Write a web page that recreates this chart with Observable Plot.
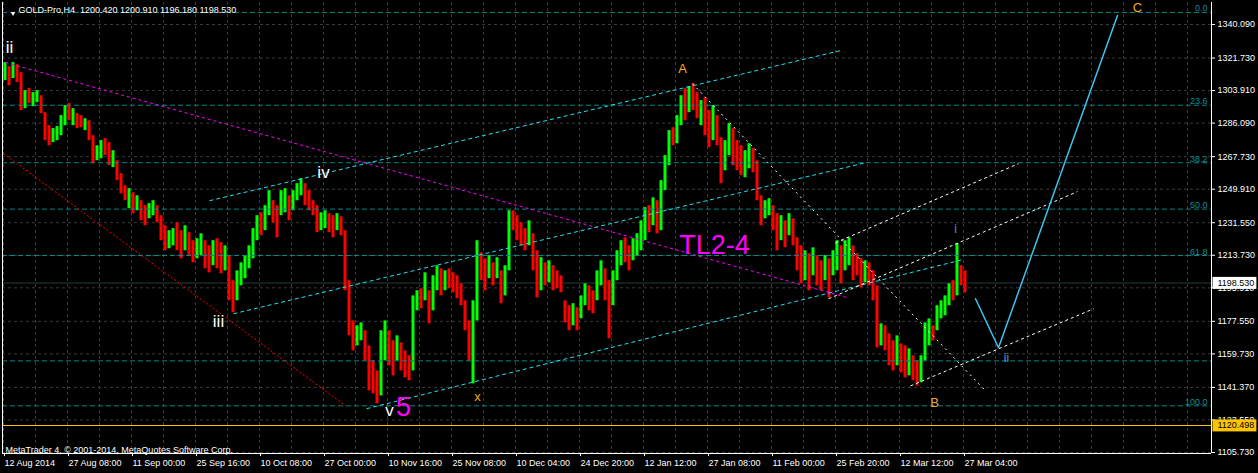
<!DOCTYPE html>
<html><head><meta charset="utf-8">
<script src="https://cdn.jsdelivr.net/npm/d3@7"></script>
<script src="https://cdn.jsdelivr.net/npm/@observablehq/plot@0.6"></script>
<style>html,body{margin:0;padding:0;background:#000;overflow:hidden}</style>
</head><body><div id="chart"></div>
<script>
// ---- data (4-bar columns of the H4 chart) ----
const candleHigh = [1319.2,1317.0,1319.2,1318.1,1313.7,1303.9,1305.0,1302.8,1303.9,1301.1,
1291.8,1284.7,1283.1,1284.2,1290.2,1295.7,1296.8,1294.0,1291.3,1290.2,
1288.5,1287.4,1279.2,1273.7,1276.5,1277.6,1275.4,1271.0,1265.5,1258.4,
1251.8,1250.2,1248.0,1246.3,1243.6,1240.9,1242.0,1243.6,1240.9,1235.4,
1229.9,1227.2,1228.3,1231.5,1227.2,1229.9,1226.1,1221.7,1222.8,1225.5,
1221.7,1218.9,1221.7,1222.8,1220.6,1218.9,1213.5,1199.8,1205.2,1209.6,
1213.5,1218.9,1228.3,1235.4,1237.0,1240.9,1249.1,1243.6,1240.9,1249.1,
1250.2,1246.3,1249.1,1252.9,1255.7,1252.9,1249.1,1243.6,1240.9,1237.0,
1238.1,1236.5,1235.4,1236.5,1234.8,1227.2,1199.8,1177.8,1175.1,1176.7,
1172.4,1164.1,1155.9,1150.4,1172.4,1177.8,1172.4,1166.9,1169.6,1165.8,
1161.4,1158.7,1191.5,1194.3,1195.4,1204.1,1194.3,1202.5,1208.0,1206.3,
1205.2,1206.3,1204.1,1202.5,1198.1,1188.8,1177.8,1188.8,1221.7,1215.1,
1211.8,1213.5,1209.6,1212.4,1205.2,1208.0,1238.1,1238.1,1235.4,1231.5,
1228.3,1232.6,1225.5,1216.2,1212.4,1209.6,1210.7,1208.0,1205.2,1202.5,
1188.8,1186.1,1187.2,1185.0,1191.5,1198.1,1197.0,1194.3,1205.2,1210.7,
1206.3,1199.8,1205.2,1216.2,1221.7,1223.3,1218.9,1222.8,1225.5,1232.6,
1239.8,1240.9,1245.2,1243.6,1254.6,1268.3,1282.0,1283.6,1290.2,1301.1,
1305.0,1306.1,1307.7,1302.8,1298.4,1300.0,1292.9,1295.7,1290.2,1278.1,
1276.5,1285.8,1283.1,1276.5,1273.7,1271.0,1274.8,1272.1,1265.5,1246.3,
1243.6,1244.7,1240.9,1236.5,1235.4,1232.6,1236.5,1233.7,1223.3,1218.9,
1216.2,1214.6,1217.8,1213.5,1210.7,1213.5,1211.8,1216.2,1221.7,1218.9,
1221.7,1223.3,1218.9,1214.6,1211.8,1210.7,1209.6,1205.2,1197.0,1176.2,
1175.1,1170.7,1166.9,1169.6,1165.2,1164.1,1162.5,1158.7,1155.9,1158.7,
1176.7,1178.9,1175.1,1186.1,1188.8,1191.5,1198.1,1199.8,1220.0,1208.0,
1205.2];
const candleLow = [1309.4,1306.6,1310.5,1308.3,1292.9,1294.0,1296.8,1295.1,1297.3,1291.3,
1276.5,1273.7,1275.4,1276.5,1279.2,1284.7,1287.4,1284.7,1283.1,1283.6,
1282.0,1276.5,1263.9,1265.5,1266.6,1268.3,1262.8,1261.7,1254.6,1247.4,
1243.6,1239.2,1236.5,1238.1,1232.6,1229.9,1233.7,1235.4,1231.5,1221.7,
1216.2,1217.3,1218.9,1216.2,1211.8,1216.2,1213.5,1209.6,1211.8,1213.5,
1206.3,1204.1,1208.0,1206.3,1203.6,1205.2,1188.8,1182.2,1188.8,1197.0,
1200.9,1206.3,1211.8,1221.7,1224.4,1227.2,1235.4,1231.5,1223.3,1235.4,
1237.0,1232.6,1238.1,1243.6,1246.3,1240.9,1238.1,1235.4,1226.1,1227.2,
1228.3,1226.1,1223.3,1227.2,1224.4,1194.3,1169.6,1161.4,1164.1,1166.9,
1155.9,1139.5,1137.8,1132.4,1136.7,1155.9,1153.2,1147.7,1155.9,1150.4,
1146.6,1145.0,1150.4,1183.3,1184.4,1188.8,1176.2,1183.3,1194.3,1191.5,
1194.3,1195.4,1193.2,1189.9,1186.1,1172.4,1155.9,1143.3,1177.8,1199.8,
1194.3,1200.9,1197.0,1200.9,1187.2,1191.5,1205.2,1227.2,1221.7,1218.9,
1216.2,1218.9,1205.2,1190.4,1194.3,1197.0,1198.7,1194.3,1195.4,1193.2,
1176.7,1172.4,1175.1,1172.4,1178.9,1186.1,1183.3,1181.7,1188.8,1197.0,
1188.8,1168.0,1186.1,1199.8,1208.0,1209.6,1205.2,1210.7,1213.5,1216.2,
1221.7,1226.1,1229.9,1225.5,1227.2,1249.1,1262.8,1273.7,1274.8,1284.7,
1287.4,1291.8,1292.9,1288.5,1284.7,1279.2,1272.6,1276.5,1273.7,1252.9,
1260.0,1268.3,1262.8,1260.0,1257.3,1256.2,1261.1,1258.9,1243.6,1229.9,
1233.7,1235.4,1227.2,1216.2,1221.7,1217.8,1224.4,1218.9,1205.2,1198.1,
1199.8,1194.3,1202.5,1197.0,1194.3,1199.8,1190.4,1202.5,1205.2,1198.1,
1205.2,1208.0,1199.8,1202.5,1195.9,1198.7,1197.0,1188.8,1163.0,1164.1,
1161.4,1153.2,1150.4,1153.2,1149.3,1146.6,1147.7,1145.0,1142.2,1143.9,
1155.9,1164.1,1166.9,1172.4,1178.9,1180.6,1186.1,1188.8,1191.5,1197.0,
1193.2];
const candleDir = "ududduduud"+"dduuuududd"+"udduuddudd"+"dududduudd"+"duuddudduu"+
"dduddudduu"+"uuuuduuddu"+"uduuuddddu"+"uddudddduu"+"dddduuddud"+
"dduududuud"+"udddddduud"+"dududuuddd"+"duddududdd"+"dduduudduu"+
"dduuudduuu"+"ududuuuduu"+"dudduddudd"+"uuddduuddd"+"uuddududdd"+
"ududduduud"+"uudddudddu"+"dddudduddu"+"uuduuuudud"+"d";

const priceTicks = [1340.090,1321.730,1303.910,1286.090,1267.730,1249.910,1231.550,1213.730,1195.910,1177.550,1159.730,1141.370,1123.550,1105.730];
const gridBars = [0,32,64,96,128,160,192,224,256,288,320,352,384,416,448,480,512,544,576,608,640,672,704,736,768,800,832,864,896,928,960,992,1024,1056,1088,1120,1152,1184];
const dateTickBars = [0,64,128,192,256,320,384,448,512,576,640,704,768,832,896,960];
const dateTickLabels = ["12 Aug 2014","27 Aug 08:00","11 Sep 00:00","25 Sep 16:00","10 Oct 08:00","27 Oct 00:00","10 Nov 16:00","25 Nov 08:00","10 Dec 04:00","24 Dec 20:00","12 Jan 12:00","27 Jan 08:00","11 Feb 00:00","25 Feb 20:00","12 Mar 12:00","27 Mar 04:00"];

const fibPrices = [1346.7,1295.9,1264.4,1239.0,1213.6,1155.9,1131.3];
const fibLabels = ["0.0","23.6","38.2","50.0","61.8","","100.0"];

const bidPrice = 1198.530;
const hLinePrice = 1120.498;

const redTrend = [{x1:0,y1:1269.4,x2:342,y2:1131.3}];
const magentaTrend = [{x1:2,y1:1319.3,x2:844,y2:1190.5}];
const cyanChannel = [
  {x1:206,y1:1243.6,x2:837,y2:1325.8},
  {x1:230,y1:1181.7,x2:862,y2:1264.4},
  {x1:363,y1:1129.7,x2:959,y2:1211.3}];
const whiteDowntrend = [{x1:689,y1:1307.7,x2:982,y2:1139.5}];
const whiteChannel = [
  {x1:832,y1:1220.6,x2:1015,y2:1263.9},
  {x1:825,y1:1189.9,x2:1074,y2:1248.6},
  {x1:907,y1:1142.2,x2:1090,y2:1184.4}];
const projection = [{bar:972,price:1189.9},{bar:995,price:1163.1},{bar:1114,price:1345.0}];

const whiteLabels = [{bar:6,price:1327.5,t:"ii"},{bar:320,price:1259.0,t:"iv"},{bar:215,price:1177.3,t:"iii"},{bar:386,price:1128.6,t:"v"}];
const magentaLabels = [{bar:400,price:1130.2,t:"5"},{bar:711,price:1219.0,t:"TL2-4"}];
const orangeLabels = [{bar:679,price:1316.0,t:"A"},{bar:474,price:1136.2,t:"x"},{bar:931,price:1132.9,t:"B"},{bar:1134,price:1349.4,t:"C"}];
const blueLabels = [{bar:952,price:1227.8,t:"i"},{bar:1003,price:1157.6,t:"ii"}];

const titleText = "GOLD-Pro,H4  1200.420 1200.910 1196.180 1198.530";
const copyrightText = "MetaTrader 4, \u00a9 2001-2014, MetaQuotes Software Corp.";

// ---- build ----
const candles = candleHigh.map((h, i) => ({bar: i * 4 + 1.5, high: h, low: candleLow[i], up: candleDir[i] === "u"}));
const xDomain = [-1, 1208];
const yDomain = [1105.18, 1352.14];
const labelMap = new Map(dateTickBars.map((b, i) => [b, dateTickLabels[i]]));
const FONT = "'Liberation Sans', Arial, sans-serif";

const chart = Plot.plot({
  width: 1258, height: 473,
  marginLeft: 2, marginRight: 47, marginTop: 2, marginBottom: 20,
  x: {domain: xDomain, axis: null},
  y: {domain: yDomain, axis: null},
  style: {background: "#000", color: "#fff", fontFamily: FONT, fontSize: "9px"},
  marks: [
    Plot.gridY(priceTicks, {stroke: "#3a3a3a", strokeOpacity: 1, strokeDasharray: "3,3"}),
    Plot.gridX(gridBars, {stroke: "#3a3a3a", strokeOpacity: 1, strokeDasharray: "3,3"}),
    Plot.ruleY([bidPrice], {stroke: "#24403a"}),
    Plot.ruleY([hLinePrice], {stroke: "#ffc400"}),
    Plot.ruleX(candles.filter(d => !d.up), {x: "bar", y1: "low", y2: "high", stroke: "#ff0000", strokeWidth: 3}),
    Plot.ruleX(candles.filter(d => d.up), {x: "bar", y1: "low", y2: "high", stroke: "#00ff00", strokeWidth: 3}),
    Plot.ruleY(fibPrices, {stroke: "#0b8585", strokeDasharray: "5,3"}),
    Plot.text(fibPrices, {y: d => d, text: (d, i) => fibLabels[i], frameAnchor: "right", textAnchor: "end", lineAnchor: "bottom", dx: -4, dy: -1, fill: "#0b8f8f", fontSize: 9}),
    Plot.link(redTrend, {x1: "x1", y1: "y1", x2: "x2", y2: "y2", stroke: "#ff0000", strokeDasharray: "2,2"}),
    Plot.link(magentaTrend, {x1: "x1", y1: "y1", x2: "x2", y2: "y2", stroke: "#ff00ff", strokeDasharray: "3,3"}),
    Plot.link(cyanChannel, {x1: "x1", y1: "y1", x2: "x2", y2: "y2", stroke: "#22e0f0", strokeDasharray: "4,3"}),
    Plot.link(whiteDowntrend, {x1: "x1", y1: "y1", x2: "x2", y2: "y2", stroke: "#ffffff", strokeDasharray: "2,4"}),
    Plot.link(whiteChannel, {x1: "x1", y1: "y1", x2: "x2", y2: "y2", stroke: "#ffffff", strokeDasharray: "3,3"}),
    Plot.line(projection, {x: "bar", y: "price", stroke: "#3ec3f0", strokeWidth: 1.5}),
    Plot.text(whiteLabels, {x: "bar", y: "price", text: "t", fill: "#ffffff", fontSize: 17}),
    Plot.text(magentaLabels, {x: "bar", y: "price", text: "t", fill: "#ff00ff", fontSize: 27}),
    Plot.text(orangeLabels, {x: "bar", y: "price", text: "t", fill: "#eeaa22", fontSize: 13}),
    Plot.text(blueLabels, {x: "bar", y: "price", text: "t", fill: "#4a9ad8", fontSize: 12}),
    Plot.text(["\u25BC"], {frameAnchor: "top-left", text: d => d, dx: 7, dy: 9, fill: "#fff", fontSize: 7}),
    Plot.text([titleText], {frameAnchor: "top-left", text: d => d, dx: 16, dy: 4, textAnchor: "start", lineAnchor: "top", fill: "#fff", fontSize: 9}),
    Plot.text([copyrightText], {frameAnchor: "bottom-left", text: d => d, dx: 3, dy: -1, textAnchor: "start", lineAnchor: "bottom", fill: "#fff", fontSize: 9}),
    Plot.ruleX([xDomain[0], xDomain[1]], {stroke: "#fff"}),
    Plot.ruleY([yDomain[0]], {stroke: "#fff"}),
    Plot.axisY(priceTicks, {anchor: "right", tickSize: 3, tickPadding: 3, tickFormat: d3.format(".3f"), label: null, fontSize: 9}),
    Plot.axisX(dateTickBars, {anchor: "bottom", tickSize: 3, tickPadding: 3, tickFormat: d => labelMap.get(d), textAnchor: "start", dx: 1, label: null, fontSize: 9}),
    Plot.text([bidPrice], {y: d => d, text: d => d3.format(".3f")(d), frameAnchor: "right", dx: 6, textAnchor: "start", fill: "#000", fontSize: 9, className: "box-white"}),
    Plot.text([hLinePrice], {y: d => d, text: d => d3.format(".3f")(d), frameAnchor: "right", dx: 6, textAnchor: "start", fill: "#000", fontSize: 9, className: "box-yellow"})
  ]
});
document.getElementById("chart").append(chart);

// background boxes behind the two price tags on the axis
[["box-white", "#ffffff"], ["box-yellow", "#ffc400"]].forEach(([cls, col]) => {
  d3.select(chart).selectAll("g." + cls + " text").each(function () {
    const b = this.getBBox();
    const cy = b.y + b.height / 2;
    const r = document.createElementNS("http://www.w3.org/2000/svg", "rect");
    r.setAttribute("x", b.x - 5);
    r.setAttribute("y", cy - 6);
    r.setAttribute("width", b.width + 7);
    r.setAttribute("height", 12);
    r.setAttribute("fill", col);
    const tr = this.getAttribute("transform");
    if (tr) r.setAttribute("transform", tr);
    this.parentNode.insertBefore(r, this);
  });
});
</script>
</body></html>
